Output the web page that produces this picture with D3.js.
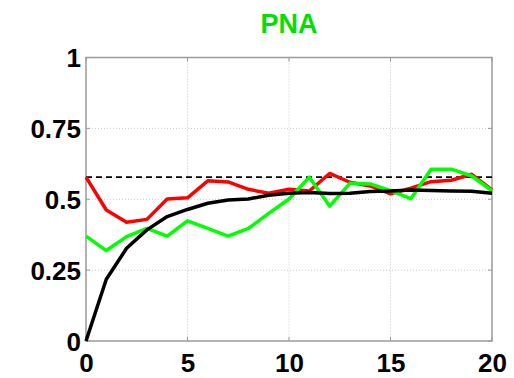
<!DOCTYPE html>
<html>
<head>
<meta charset="utf-8">
<script src="https://cdn.jsdelivr.net/npm/d3@7"></script>
<style>
  html, body { margin: 0; padding: 0; background: #fff; }
  svg { display: block; }
  text { font-family: "Liberation Sans", Arial, Helvetica, sans-serif; font-weight: bold; }
</style>
</head>
<body>
<svg id="chart" width="514" height="378"></svg>
<script>
// Lead times
const lags = d3.range(0, 21);

// Red series
const redValues = [0.578, 0.462, 0.419, 0.429, 0.501, 0.505, 0.565, 0.561, 0.535, 0.521, 0.535,
                   0.529, 0.591, 0.560, 0.547, 0.519, 0.539, 0.562, 0.567, 0.588, 0.533];
// Green series
const greenValues = [0.370, 0.319, 0.368, 0.397, 0.370, 0.424, 0.397, 0.370, 0.397, 0.450, 0.501,
                     0.578, 0.476, 0.556, 0.554, 0.530, 0.502, 0.606, 0.606, 0.582, 0.530];
// Black series
const blackValues = [0.000, 0.218, 0.327, 0.392, 0.439, 0.464, 0.486, 0.497, 0.501, 0.514, 0.521,
                     0.524, 0.520, 0.521, 0.527, 0.529, 0.533, 0.531, 0.529, 0.528, 0.521];
// Horizontal reference level
const referenceLevel = 0.578;

const xTicks = [0, 5, 10, 15, 20];
const yTicks = [0, 0.25, 0.5, 0.75, 1];
const yTickLabels = ["0", "0.25", "0.5", "0.75", "1"];
const titleText = "PNA";

const svg = d3.select("#chart");
const plotLeft = 86, plotRight = 492, plotTop = 57.5, plotBottom = 341;

const x = d3.scaleLinear().domain([0, 20]).range([plotLeft, plotRight]);
const y = d3.scaleLinear().domain([0, 1]).range([plotBottom, plotTop]);

// Dotted grid
const grid = svg.append("g");
grid.selectAll("line.gx").data(xTicks.slice(1, -1)).join("line")
  .attr("x1", d => x(d)).attr("x2", d => x(d))
  .attr("y1", plotTop).attr("y2", plotBottom)
  .attr("stroke", "#c8c8c8").attr("stroke-width", 1).attr("stroke-dasharray", "1,2");
grid.selectAll("line.gy").data(yTicks.slice(1, -1)).join("line")
  .attr("y1", d => y(d)).attr("y2", d => y(d))
  .attr("x1", plotLeft).attr("x2", plotRight)
  .attr("stroke", "#c8c8c8").attr("stroke-width", 1).attr("stroke-dasharray", "1,2");

// Box frame
svg.append("rect")
  .attr("x", plotLeft).attr("y", plotTop)
  .attr("width", plotRight - plotLeft).attr("height", plotBottom - plotTop)
  .attr("fill", "none").attr("stroke", "#9a9a9a").attr("stroke-width", 1.5);

// Inner tick marks
const tickLen = 4;
const ticks = svg.append("g").attr("stroke", "#9a9a9a").attr("stroke-width", 1);
xTicks.forEach(t => {
  ticks.append("line").attr("x1", x(t)).attr("x2", x(t)).attr("y1", plotBottom).attr("y2", plotBottom - tickLen);
  ticks.append("line").attr("x1", x(t)).attr("x2", x(t)).attr("y1", plotTop).attr("y2", plotTop + tickLen);
});
yTicks.forEach(t => {
  ticks.append("line").attr("y1", y(t)).attr("y2", y(t)).attr("x1", plotLeft).attr("x2", plotLeft + tickLen);
  ticks.append("line").attr("y1", y(t)).attr("y2", y(t)).attr("x1", plotRight).attr("x2", plotRight - tickLen);
});

// Axis labels
const xAxis = d3.axisBottom(x).tickValues(xTicks).tickFormat(d3.format("d")).tickSize(0).tickPadding(0);
const gx = svg.append("g").attr("transform", `translate(0,${plotBottom})`).call(xAxis);
gx.select(".domain").remove();
gx.selectAll("text").attr("dy", null).attr("y", 31)
  .style("font-size", "26px").attr("fill", "#000");

const yAxis = d3.axisLeft(y).tickValues(yTicks).tickFormat((d, i) => yTickLabels[i]).tickSize(0).tickPadding(0);
const gy = svg.append("g").attr("transform", `translate(${plotLeft - 5},0)`).call(yAxis);
gy.select(".domain").remove();
gy.selectAll("text").attr("dy", "0.36em")
  .style("font-size", "26px").attr("fill", "#000");

// Series lines
const line = d3.line().x((d, i) => x(lags[i])).y(d => y(d));

svg.append("line")
  .attr("x1", x(0)).attr("x2", x(20))
  .attr("y1", y(referenceLevel)).attr("y2", y(referenceLevel))
  .attr("stroke", "#000").attr("stroke-width", 1.8).attr("stroke-dasharray", "6,4");

svg.append("path").datum(redValues).attr("d", line)
  .attr("fill", "none").attr("stroke", "#ff0000").attr("stroke-width", 3.5).attr("stroke-linejoin", "round");
svg.append("path").datum(greenValues).attr("d", line)
  .attr("fill", "none").attr("stroke", "#00ff00").attr("stroke-width", 3.5).attr("stroke-linejoin", "round");
svg.append("path").datum(blackValues).attr("d", line)
  .attr("fill", "none").attr("stroke", "#000").attr("stroke-width", 3.5).attr("stroke-linejoin", "round");

// Title
svg.append("text")
  .attr("x", (plotLeft + plotRight) / 2).attr("y", 33)
  .attr("text-anchor", "middle")
  .style("font-size", "27px").attr("fill", "#00e000")
  .text(titleText);
</script>
</body>
</html>
